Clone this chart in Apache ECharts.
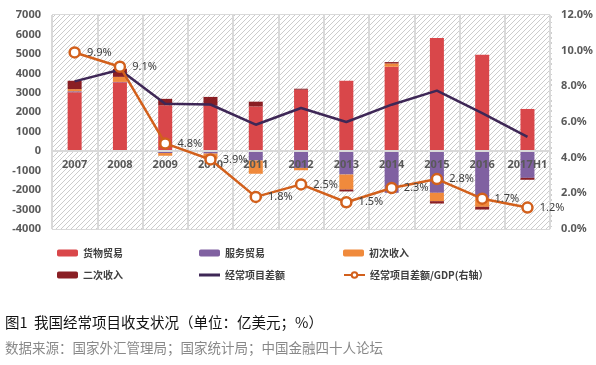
<!DOCTYPE html>
<html><head><meta charset="utf-8">
<script src="https://cdn.jsdelivr.net/npm/echarts@6/dist/echarts.min.js"></script>
<style>
html,body{margin:0;padding:0;background:#fff}
#wrap{position:relative;width:596px;height:365px}
#hatch{position:absolute;z-index:0;
  background:repeating-linear-gradient(135deg,#ffffff 0px,#ffffff 2.6px,#cfcfcf 2.6px,#cfcfcf 3.7px)}
#c{position:absolute;left:0;top:0;width:596px;height:365px;z-index:1}
</style>
</head><body><div id="wrap"><div id="hatch"></div><div id="c"></div></div>
<script>
var years = ['2007','2008','2009','2010','2011','2012','2013','2014','2015','2016','2017H1'];
var goods = [3030, 3540, 2350, 2340, 2300, 3160, 3620, 4340, 5820, 4960, 2170];
var services = [50, 20, -95, -120, -480, -860, -1200, -2140, -2140, -2400, -1370];
var primary = [110, 260, -140, -270, -680, -120, -770, 170, -430, -460, 0];
var secondary = [430, 410, 340, 450, 245, 50, -100, 70, -120, -140, -100];
var currentAccount = [3590, 4190, 2440, 2400, 1360, 2220, 1500, 2390, 3110, 1960, 730];
var caToGdp = [9.9, 9.1, 4.8, 3.9, 1.8, 2.5, 1.5, 2.3, 2.8, 1.7, 1.2];
var leftTicks = {min: -4000, max: 7000, interval: 1000};
var rightTicks = {min: 0, max: 12, interval: 2};

var names = ['货物贸易','服务贸易','初次收入','二次收入','经常项目差额','经常项目差额/GDP(右轴）'];
var colors = ['#d9474a','#8061a1','#f08a3c','#8a1f24','#3e2756','#d2601c'];

var font = "'Noto Sans', 'Noto Sans CJK SC', sans-serif";
var cjk = "'Noto Sans CJK SC', sans-serif";
var G = {left: 52, top: 15, right: 44, bottom: 136};

// hatch tile for the plot background
var cv = document.createElement('canvas');
cv.width = 5; cv.height = 5;
var g = cv.getContext('2d');
g.fillStyle = '#ffffff'; g.fillRect(0,0,5,5);
g.strokeStyle = '#cccccc'; g.lineWidth = 1;
g.beginPath(); g.moveTo(-1,6); g.lineTo(6,-1); g.stroke();
g.beginPath(); g.moveTo(-1,1); g.lineTo(1,-1); g.stroke();
g.beginPath(); g.moveTo(4,6); g.lineTo(6,4); g.stroke();
var hatchPattern = {image: cv, repeat: 'repeat'};

var chart = echarts.init(document.getElementById('c'), null, {renderer:'canvas'});
var W = chart.getWidth(), H = chart.getHeight();
var L = G.left, T = G.top, R = W - G.right, B = H - G.bottom;

var hz = document.getElementById('hatch');
hz.style.left = L + 'px'; hz.style.top = T + 'px';
hz.style.width = (R - L) + 'px'; hz.style.height = (B - T) + 'px';

function bar(i, data){
  return {name: names[i], type:'bar', stack:'a', data: data, barWidth: 14,
    itemStyle:{color: colors[i]}, z: 2};
}
var legendPos = [[57,248],[199,248],[343,248],[57,270],[199,270],[343,270]];
var legends = names.map(function(n,i){
  var d = (i === 4) ? {name: n, icon: 'rect'} : n;
  return {data:[d], left: legendPos[i][0], top: legendPos[i][1], itemWidth: 21,
    itemHeight: (i === 4 ? 3 : 7),
    padding: 0, textStyle:{fontFamily: cjk, fontSize: 10, fontWeight:'bold', color:'#404040'}};
});
chart.setOption({
  animation: false,
  backgroundColor: 'transparent',
  color: colors,
  title: [
    {text:'图1  我国经常项目收支状况（单位：亿美元；%）', left: 5, top: 315, padding: 0,
     textStyle:{fontFamily: cjk, fontSize: 14.5, fontWeight:'normal', color:'#111'}},
    {text:'数据来源：国家外汇管理局；国家统计局；中国金融四十人论坛', left: 5, top: 341, padding: 0,
     textStyle:{fontFamily: cjk, fontSize: 13.5, fontWeight:'normal', color:'#888'}}
  ],
  legend: legends,
  grid: {left: G.left, right: G.right, top: G.top, bottom: G.bottom},
  xAxis: {type:'category', data: years, z: 5, position: 'bottom', offset: 0,
    axisLine:{show:true, onZero:false, lineStyle:{color:'#d9d9d9', width:2}},
    axisTick:{show:false},
    axisLabel:{interval: 0, margin: 8, fontFamily: font, fontSize: 11, fontWeight:'bold', color:'#595959'},
    splitLine:{show:true, interval:0, lineStyle:{color:'#d9d9d9', width:2}}},
  yAxis: [
    {type:'value', min: leftTicks.min, max: leftTicks.max, interval: leftTicks.interval,
     axisLine:{show:false}, axisTick:{show:false},
     axisLabel:{margin: 11, fontFamily: font, fontSize: 11, fontWeight:'bold', color:'#595959',
       formatter: function(v){return String(v);}},
     splitLine:{show:true, lineStyle:{color:'#d9d9d9', width:2}}},
    {type:'value', min: rightTicks.min, max: rightTicks.max, interval: rightTicks.interval,
     axisLine:{show:false}, axisTick:{show:false}, splitLine:{show:false},
     splitArea:{show:true, areaStyle:{color:[hatchPattern]}},
     axisLabel:{margin: 11, fontFamily: font, fontSize: 11, fontWeight:'bold', color:'#595959',
       formatter: function(v){return v.toFixed(1)+'%';}}}
  ],
  series: [
    bar(0, goods), bar(1, services), bar(2, primary), bar(3, secondary),
    {name: names[4], type:'line', data: currentAccount, symbol:'none', z: 6,
     lineStyle:{color: colors[4], width: 2.5}, itemStyle:{color: colors[4]}},
    {name: names[5], type:'line', yAxisIndex: 1, data: caToGdp, z: 7,
     symbol:'circle', symbolSize: 10, showAllSymbol: true,
     lineStyle:{color: colors[5], width: 2.5},
     itemStyle:{color:'#ffffff', borderColor: colors[5], borderWidth: 2.5},
     label:{show:true, position:'right', distance: 6, fontFamily: font, fontSize: 11,
       color:'#404040', formatter: function(p){return p.value.toFixed(1)+'%';}}}
  ]
});
// move the category axis (line + labels) up to the value 0 of the left axis
var zeroY = chart.convertToPixel({yAxisIndex: 0}, 0);
chart.setOption({xAxis: {offset: zeroY - B}});
</script></body></html>
